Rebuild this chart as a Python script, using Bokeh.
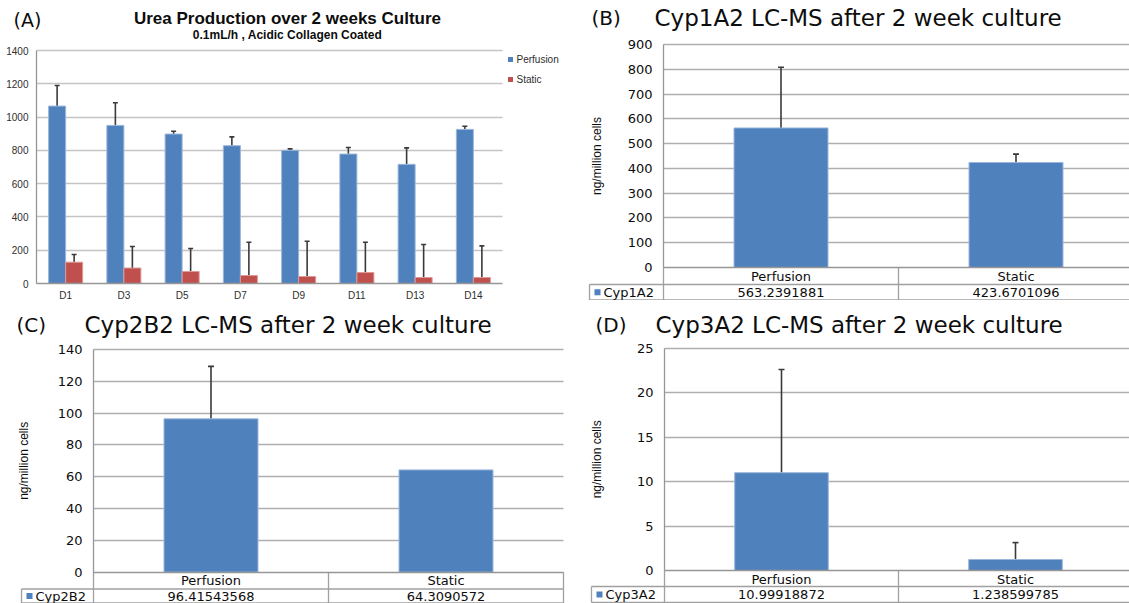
import math
from bokeh.plotting import figure
from bokeh.models import ColumnDataSource, FixedTicker, Range1d, Whisker, TeeHead, Grid
from bokeh.layouts import column, row
from bokeh.core.properties import value
from bokeh.embed import file_html
from bokeh.resources import INLINE

# ---------------- data ----------------
urea_days = ["D1", "D3", "D5", "D7", "D9", "D11", "D13", "D14"]
urea_perfusion = [1066, 950, 898, 828, 800, 778, 716, 926]
urea_perfusion_sd = [124, 136, 17, 53, 9, 39, 99, 19]
urea_static = [128, 93, 72, 48, 42, 66, 36, 36]
urea_static_sd = [46, 129, 138, 200, 212, 182, 198, 190]
urea_ticks = [0, 200, 400, 600, 800, 1000, 1200, 1400]
series_names = ["Perfusion", "Static"]

groups = ["Perfusion", "Static"]
cyp1a2 = [563.2391881, 423.6701096]
cyp1a2_sd = [245, 34]
cyp1a2_ticks = [0, 100, 200, 300, 400, 500, 600, 700, 800, 900]
cyp2b2 = [96.41543568, 64.3090572]
cyp2b2_sd = [33, 0]
cyp2b2_ticks = [0, 20, 40, 60, 80, 100, 120, 140]
cyp3a2 = [10.99918872, 1.238599785]
cyp3a2_sd = [11.6, 1.9]
cyp3a2_ticks = [0, 5, 10, 15, 20, 25]

# ---------------- styles ----------------
BLUE = "#4F81BD"
BLUE_EDGE = "#9AB7DB"
RED = "#C0504D"
RED_EDGE = "#DB9A98"
ERR = "#3A3A3A"
GRID_A = "#C4C4C4"
GRID = "#AEAEAE"
AXIS = "#969696"
TABLE = "#A0A0A0"
TXT = "#0D0D0D"
HAS_CROSS = "cross_bounds" in Grid.properties()


def base_fig(w, h, xr, yr):
    p = figure(width=w, height=h, x_range=Range1d(*xr), y_range=Range1d(*yr),
               output_backend="svg", toolbar_location=None, title=None, min_border=0)
    p.outline_line_color = None
    p.xgrid.visible = False
    return p


def style_axes(p, yticks, ybounds, xticks, xbounds, labels, font, size, color,
               ystand, xstand):
    ya = p.yaxis[0]
    ya.fixed_location = 0
    ya.ticker = FixedTicker(ticks=yticks, minor_ticks=[])
    ya.bounds = ybounds
    xa = p.xaxis[0]
    xa.fixed_location = 0
    xa.ticker = FixedTicker(ticks=xticks, minor_ticks=[])
    xa.bounds = xbounds
    xa.major_label_overrides = {t: l for t, l in zip(xticks, labels)}
    for a in (ya, xa):
        a.major_tick_out = 0
        a.major_tick_in = 0
        a.minor_tick_out = 0
        a.minor_tick_in = 0
        a.axis_line_color = AXIS
        a.axis_line_width = 1.3
        a.major_label_text_font = font
        a.major_label_text_font_size = size
        a.major_label_text_color = color
    ya.major_label_standoff = ystand
    xa.major_label_standoff = xstand


def grid(p, ticks, xb0, xb1, color, width):
    p.ygrid.ticker = FixedTicker(ticks=ticks, minor_ticks=[])
    p.ygrid.grid_line_color = color
    p.ygrid.grid_line_width = width
    if HAS_CROSS:
        p.ygrid.cross_bounds = (xb0, xb1)
    else:
        p.ygrid.visible = False
        p.segment(x0=[xb0] * len(ticks), x1=[xb1] * len(ticks), y0=ticks, y1=ticks,
                  line_color=color, line_width=width)


def txt(p, x, y, s, font, size, color=TXT, align="left", baseline="middle",
        style="normal", angle=0.0):
    p.text(x=x, y=y, text=s, text_font=value(font), text_font_size=value(size),
           text_color=color, text_align=align, text_baseline=baseline,
           text_font_style=style, angle=angle)


def whiskers(p, xs, means, sds, size=6):
    keep = [i for i, s in enumerate(sds) if s > 0]
    src = ColumnDataSource(dict(x=[xs[i] for i in keep],
                                lo=[means[i] for i in keep],
                                hi=[means[i] + sds[i] for i in keep]))
    w = Whisker(source=src, base="x", lower="lo", upper="hi",
                upper_head=TeeHead(size=size, line_color=ERR, line_width=1.6),
                lower_head=None, line_color=ERR, line_width=1.6)
    p.add_layout(w)


# ---------------- panel A ----------------
def fxA(x):
    return (x - 36) * 8 / 466


def fyA(y):
    return (283 - y) * 1400 / 233


pA = base_fig(570, 300, (fxA(0), fxA(570)), (fyA(300), fyA(0)))
n = len(urea_days)
bw = 0.292
centers = [i + 0.5 for i in range(n)]
xp = [c - bw / 2 for c in centers]
xs = [c + bw / 2 for c in centers]
grid(pA, urea_ticks[1:], 0, n, GRID_A, 1.4)
pA.vbar(x=xp, top=urea_perfusion, bottom=0, width=bw, fill_color=BLUE,
        line_color=BLUE_EDGE, line_width=1)
pA.vbar(x=xs, top=urea_static, bottom=0, width=bw, fill_color=RED,
        line_color=RED_EDGE, line_width=1)
whiskers(pA, xp, urea_perfusion, urea_perfusion_sd, size=5)
whiskers(pA, xs, urea_static, urea_static_sd, size=5)
style_axes(pA, urea_ticks, (0, urea_ticks[-1]), centers, (0, n), urea_days,
           "Liberation Sans", "10px", "#2E2E2E", 8, 6)
pA.scatter(x=[fxA(510)] * 2, y=[fyA(59), fyA(79)], marker="square", size=5,
           color=[BLUE, RED], line_color=None)
txt(pA, [fxA(516)] * 2, [fyA(59), fyA(79)], series_names, "Liberation Sans", "10px",
    color="#2E2E2E")
txt(pA, [fxA(13)], [fyA(19)], ["(A)"], "DejaVu Sans", "19px")
txt(pA, [fxA(287)], [fyA(18)], ["Urea Production over 2 weeks Culture"],
    "Liberation Sans", "17px", align="center", style="bold")
txt(pA, [fxA(287)], [fyA(34)], ["0.1mL/h , Acidic Collagen Coated"],
    "Liberation Sans", "12px", align="center", style="bold")


# ---------------- panels B, C, D ----------------
def cyp_panel(letter, name, means, sds, ticks, W, H, ox, oy, ax_x, cat_w, y0,
              ytop_px, r1, r2, lc, letter_x, title_x, title_y, ylab_x):
    ytop_val = ticks[-1]

    def fx(x):
        return (x - ax_x) / cat_w

    def fy(y):
        return (y0 - y) * ytop_val / (y0 - ytop_px)

    p = base_fig(W, H, (fx(ox), fx(ox + W)), (fy(oy + H), fy(oy)))
    grid(p, ticks[1:], 0, 2, GRID, 1.6)
    xc = [0.5, 1.5]
    p.vbar(x=xc, top=means, bottom=0, width=0.4, fill_color=BLUE,
           line_color=BLUE_EDGE, line_width=1)
    whiskers(p, xc, means, sds, size=6)
    style_axes(p, ticks, (0, ytop_val), xc, (0, 2), groups,
               "DejaVu Sans", "13px", TXT, 11, 1)
    # data table under the axis
    xl = fx(lc)
    p.segment(x0=[xl, xl, 0, 1, 2, xl], x1=[2, 2, 0, 1, 2, xl],
              y0=[fy(r1), fy(r2), 0, 0, 0, fy(r1)],
              y1=[fy(r1), fy(r2), fy(r2), fy(r2), fy(r2), fy(r2)],
              line_color=TABLE, line_width=1.3)
    ym = fy((r1 + r2) / 2)
    txt(p, xc, [ym] * 2, [str(v) for v in means], "DejaVu Sans", "13px",
        align="center")
    p.scatter(x=[fx(lc + 8)], y=[ym], marker="square", size=6, color=BLUE,
              line_color=None)
    txt(p, [fx(lc + 14)], [ym], [name], "DejaVu Sans", "13px")
    txt(p, [fx(ylab_x)], [fy((y0 + ytop_px) / 2)], ["ng/million cells"],
        "Liberation Sans", "12px", align="center", angle=math.pi / 2)
    txt(p, [fx(letter_x)], [fy(title_y)], [letter], "DejaVu Sans", "20px")
    txt(p, [fx(title_x)], [fy(title_y)], [name + " LC-MS after 2 week culture"],
        "DejaVu Sans", "23px")
    return p


pB = cyp_panel("(B)", "Cyp1A2", cyp1a2, cyp1a2_sd, cyp1a2_ticks, 559, 300, 570, 0,
               663, 235, 267, 44, 284, 299.5, 589, 591, 654, 17.5, 596)
pC = cyp_panel("(C)", "Cyp2B2", cyp2b2, cyp2b2_sd, cyp2b2_ticks, 570, 303, 0, 300,
               93, 235, 571.7, 349, 588.5, 602.5, 21, 16, 84, 324, 23)
pD = cyp_panel("(D)", "Cyp3A2", cyp3a2, cyp3a2_sd, cyp3a2_ticks, 559, 303, 570, 300,
               664, 234, 570, 347.7, 586, 602, 591, 595, 655, 324.5, 596)

root = column(row(pA, pB), row(pC, pD))
open("out.html", "w").write(file_html(root, INLINE))
